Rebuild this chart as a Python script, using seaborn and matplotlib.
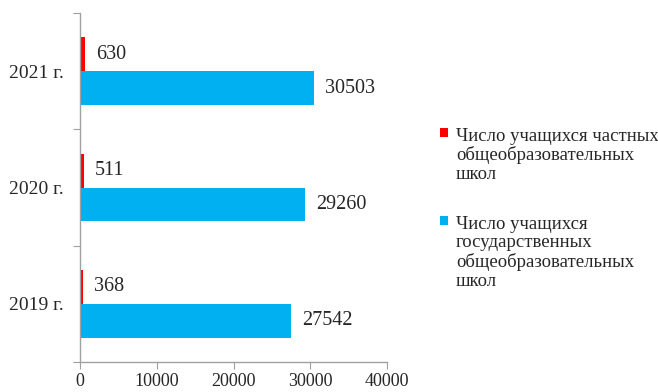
import pandas as pd
import seaborn as sns
import matplotlib.pyplot as plt

years = ["2021 г.", "2020 г.", "2019 г."]
private_students = [630, 511, 368]
state_students = [30503, 29260, 27542]
series_names = [
    "Число учащихся частных\nобщеобразовательных\nшкол",
    "Число учащихся\nгосударственных\nобщеобразовательных\nшкол",
]
colors = ["#FF0000", "#00B0F0"]
x_ticks = [0, 10000, 20000, 30000, 40000]

sns.set_style("white")
plt.rcParams["font.family"] = ["Liberation Serif", "DejaVu Serif"]
plt.rcParams["font.size"] = 13

df = pd.DataFrame(
    {
        "year": years * 2,
        "students": private_students + state_students,
        "series": [series_names[0]] * 3 + [series_names[1]] * 3,
    }
)

fig = plt.figure(figsize=(6.58, 3.92), dpi=100)
ax = fig.add_axes([0.1216, 0.0765, 0.4666, 0.8903])

sns.barplot(
    df,
    x="students",
    y="year",
    hue="series",
    order=years,
    hue_order=series_names,
    palette=colors,
    saturation=1,
    width=0.58,
    linewidth=0,
    orient="h",
    ax=ax,
)

for c in ax.containers:
    ax.bar_label(c, padding=8, fontsize=14.5)

ax.set_xlim(0, 40000)
ax.set_xticks(x_ticks)
ax.set_xticklabels([str(t) for t in x_ticks], fontsize=13)
ax.set_ylim(2.5, -0.5)
ax.set_yticks([-0.5, 0.5, 1.5, 2.5])
ax.set_yticklabels([])
ax.set_yticks([0, 1, 2], minor=True)
ax.set_yticklabels(years, minor=True, fontsize=14)
ax.tick_params(axis="y", which="minor", length=0, pad=12)
ax.tick_params(axis="y", which="major", length=5, color="#A0A0A0", left=True)
ax.tick_params(axis="x", length=5, color="#A0A0A0", bottom=True, pad=3)
ax.set_xlabel("")
ax.set_ylabel("")

sns.despine(ax=ax)
for s in ["left", "bottom"]:
    ax.spines[s].set_color("#A0A0A0")
    ax.spines[s].set_linewidth(1)

leg = ax.legend(
    loc="upper left",
    bbox_to_anchor=(0.6687, 0.674),
    bbox_transform=fig.transFigure,
    frameon=False,
    handlelength=0.4,
    handleheight=0.4,
    handletextpad=0.45,
    labelspacing=1.75,
    borderpad=0,
    borderaxespad=0,
    fontsize=13.5,
)
for col in leg._legend_handle_box.get_children():
    for row in col.get_children():
        row.align = "top"
for t in leg.get_texts():
    t.set_linespacing(1.12)

fig.savefig("out.png", dpi=100)
